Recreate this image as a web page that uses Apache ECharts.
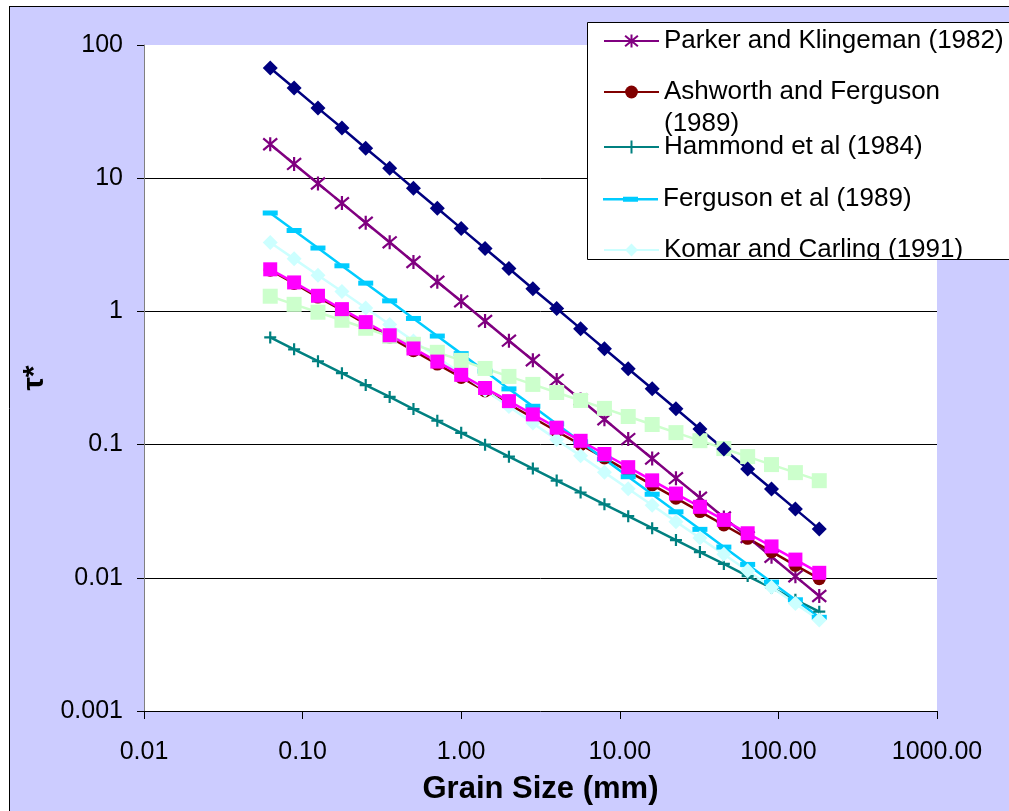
<!DOCTYPE html>
<html><head><meta charset="utf-8">
<script src="https://cdn.jsdelivr.net/npm/echarts@6/dist/echarts.min.js"></script>
<style>html,body{margin:0;padding:0;background:#fff}#c{width:1009px;height:811px}</style>
</head><body><div id="c"></div>
<script>
// Grain sizes (mm), half-phi steps
const grainSize = [0.0625, 0.0884, 0.125, 0.177, 0.25, 0.354, 0.5, 0.707, 1, 1.414, 2, 2.83, 4, 5.66, 8, 11.3, 16, 22.6, 32, 45.3, 64, 90.5, 128, 181];

const parkerKlingeman = [18.0, 12.8, 9.13, 6.50, 4.63, 3.30, 2.35, 1.67, 1.19, 0.847, 0.603, 0.430, 0.306, 0.218, 0.155, 0.110, 0.0786, 0.0560, 0.0399, 0.0284, 0.0202, 0.0144, 0.01025, 0.0073];
const ashworthFerguson = [2.04, 1.62, 1.28, 1.02, 0.806, 0.640, 0.507, 0.402, 0.319, 0.253, 0.201, 0.159, 0.126, 0.100, 0.0794, 0.0629, 0.0499, 0.0396, 0.0314, 0.0249, 0.0198, 0.0157, 0.0124, 0.00985];
const hammond = [0.638, 0.519, 0.4225, 0.344, 0.280, 0.228, 0.185, 0.151, 0.1226, 0.0998, 0.0812, 0.0661, 0.0537, 0.0437, 0.0356, 0.0290, 0.0236, 0.0192, 0.0156, 0.0127, 0.0103, 0.00841, 0.00684, 0.00557];
const fergusonEtAl = [5.48, 4.05, 2.99, 2.20, 1.63, 1.20, 0.885, 0.653, 0.482, 0.356, 0.262, 0.194, 0.143, 0.105, 0.0778, 0.0574, 0.0424, 0.0313, 0.0231, 0.0170, 0.0126, 0.00927, 0.00684, 0.00505];
const komarCarling = [3.29, 2.48, 1.87, 1.41, 1.06, 0.797, 0.600, 0.452, 0.340, 0.256, 0.193, 0.145, 0.109, 0.0823, 0.0619, 0.0466, 0.0351, 0.0264, 0.0199, 0.0150, 0.0113, 0.00849, 0.00640, 0.00482];
const lightGreenSeries = [1.30, 1.13, 0.986, 0.858, 0.747, 0.650, 0.566, 0.493, 0.429, 0.373, 0.325, 0.283, 0.246, 0.2145, 0.187, 0.1625, 0.1415, 0.123, 0.107, 0.0934, 0.0813, 0.0708, 0.0616, 0.0536];
const magentaSeries = [2.07, 1.65, 1.31, 1.04, 0.831, 0.662, 0.527, 0.420, 0.334, 0.266, 0.212, 0.1685, 0.134, 0.1068, 0.0850, 0.0677, 0.0539, 0.0429, 0.0341, 0.0272, 0.0216, 0.0172, 0.0137, 0.0109];
const darkBlueSeries = [67.2, 47.5, 33.6, 23.8, 16.8, 11.9, 8.4, 5.94, 4.2, 2.97, 2.1, 1.48, 1.05, 0.742, 0.525, 0.371, 0.2625, 0.186, 0.131, 0.0928, 0.0656, 0.0464, 0.0328, 0.0232];

const xTickLabels = ['0.01', '0.10', '1.00', '10.00', '100.00', '1000.00'];
const yTickLabels = ['0.001', '0.01', '0.1', '1', '10', '100'];
const legendNames = ['Parker and Klingeman (1982)', 'Ashworth and Ferguson (1989)', 'Hammond et al (1984)', 'Ferguson et al (1989)', 'Komar and Carling (1991)'];

const FONT = '"Liberation Sans", Arial, sans-serif';
const pairs = ys => grainSize.map((x, i) => [x, ys[i]]);

function mk(name, ys, color, symbol, size, extra) {
  return Object.assign({
    name: name, type: 'line', data: pairs(ys),
    symbol: symbol, symbolSize: size, showSymbol: true,
    lineStyle: { color: color, width: 2.5 },
    itemStyle: { color: color, borderColor: color, borderWidth: 0 },
    emphasis: { disabled: true },
    animation: false
  }, extra || {});
}

const series = [
  mk(legendNames[0], parkerKlingeman, '#800080', 'path://M0,0L10,10M10,0L0,10M5,-1L5,11', 14,
     { itemStyle: { color: '#800080', borderColor: '#800080', borderWidth: 2.2 } }),
  mk(legendNames[1], ashworthFerguson, '#800000', 'circle', 13),
  mk(legendNames[2], hammond, '#008080', 'path://M5,0L5,10M0,5L10,5', 12,
     { itemStyle: { color: '#008080', borderColor: '#008080', borderWidth: 2.2 } }),
  mk(legendNames[3], fergusonEtAl, '#00CCFF', 'rect', [15, 5]),
  mk(legendNames[4], komarCarling, '#CCFFFF', 'diamond', 15),
  mk('Series 6', lightGreenSeries, '#CCFFCC', 'rect', 15),
  mk('Series 7', magentaSeries, '#FF00FF', 'rect', 14),
  mk('Series 8', darkBlueSeries, '#000080', 'diamond', 15)
];

// one legend component per entry so the wrapped "(1989)" line overflows like the original
const legendTops = [26, 44, 132, 184, 235];
const fergusonIcon = 'path://M0,0L0.1,0L0,0.1Z M0,16L0.1,16L0,15.9Z M0,7L55,7L55,9.4L0,9.4Z M20,5.7L35,5.7L35,10.7L20,10.7Z';
const legends = legendNames.map((nm, i) => {
  const item = { name: nm };
  if (i === 3) item.icon = fergusonIcon;
  const lg = {
    show: true, orient: 'vertical', left: 603, top: legendTops[i],
    padding: 0, itemWidth: 55, itemHeight: 16, itemGap: 0,
    selectedMode: false, z: 5, symbolKeepAspect: false,
    data: [item],
    textStyle: { fontFamily: FONT, fontSize: 26, color: '#000', lineHeight: 30 }
  };
  if (i === 1) {
    lg.formatter = () => ' \nAshworth and Ferguson\n(1989)';
    lg.textStyle.lineHeight = 32;
  }
  return lg;
});

const chart = echarts.init(document.getElementById('c'), null, { renderer: 'canvas' });
chart.setOption({
  backgroundColor: '#CCCCFF',
  animation: false,
  textStyle: { fontFamily: FONT },
  grid: { left: 144, right: 72, top: 45, bottom: 100, show: true, backgroundColor: '#FFFFFF', borderWidth: 0 },
  xAxis: {
    type: 'log', logBase: 10, min: 0.01, max: 1000,
    name: 'Grain Size (mm)', nameLocation: 'middle', nameGap: 63,
    nameTextStyle: { fontFamily: FONT, fontSize: 31, fontWeight: 'bold', color: '#000' },
    axisLine: { show: true, lineStyle: { color: '#000', width: 1 } },
    axisTick: { show: true, inside: false, length: 8, lineStyle: { color: '#000' } },
    axisLabel: { fontFamily: FONT, fontSize: 25, color: '#000', margin: 29,
      formatter: (v, i) => xTickLabels[i] },
    splitLine: { show: false },
    minorTick: { show: false }
  },
  yAxis: {
    type: 'log', logBase: 10, min: 0.001, max: 100,
    name: 'τ*', nameLocation: 'middle', nameGap: 91, nameRotate: 90,
    nameTextStyle: { fontFamily: FONT, fontSize: 30, fontWeight: 'bold', color: '#000' },
    axisLine: { show: true, lineStyle: { color: '#808080', width: 1 } },
    axisTick: { show: true, inside: false, length: 7, lineStyle: { color: '#000' } },
    axisLabel: { fontFamily: FONT, fontSize: 25, color: '#000', margin: 21,
      formatter: (v, i) => yTickLabels[i] },
    splitLine: { show: true, showMinLine: false, showMaxLine: false, lineStyle: { color: '#000', width: 1 } }
  },
  legend: legends,
  graphic: [
    { type: 'rect', silent: true, z: 100, shape: { x: 0, y: 0, width: 9, height: 811 }, style: { fill: '#FFFFFF' } },
    { type: 'rect', silent: true, z: 100, shape: { x: 0, y: 0, width: 1009, height: 6 }, style: { fill: '#FFFFFF' } },
    { type: 'line', silent: true, z: 100, shape: { x1: 9.5, y1: 6, x2: 9.5, y2: 811 }, style: { stroke: '#000', lineWidth: 1 } },
    { type: 'line', silent: true, z: 100, shape: { x1: 9, y1: 6.5, x2: 1009, y2: 6.5 }, style: { stroke: '#000', lineWidth: 1 } },
    // legend box: fill below the legend, clip strip + border above it
    { type: 'rect', silent: true, z: 3, shape: { x: 587.5, y: 22.5, width: 440, height: 237 }, style: { fill: '#FFFFFF' } },
    { type: 'rect', silent: true, z: 6, shape: { x: 588, y: 260, width: 349, height: 14 }, style: { fill: '#FFFFFF' } },
    { type: 'rect', silent: true, z: 6, shape: { x: 937, y: 260, width: 72, height: 14 }, style: { fill: '#CCCCFF' } },
    { type: 'rect', silent: true, z: 7, shape: { x: 587.5, y: 22.5, width: 440, height: 237 }, style: { fill: null, stroke: '#000', lineWidth: 1 } }
  ],
  series: series
});
</script>
</body></html>
